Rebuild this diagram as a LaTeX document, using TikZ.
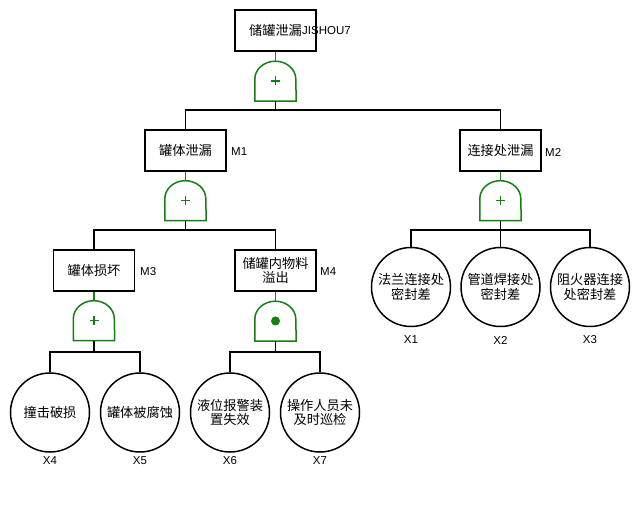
\documentclass[tikz,border=0pt]{standalone}
\usepackage{fontspec}
\setmainfont{Liberation Sans}
\newfontfamily\cjk{Noto Sans CJK SC}
\definecolor{gategreen}{RGB}{20,128,20}
\begin{document}
\begin{tikzpicture}[x=1pt,y=-1pt,
  evbox/.style={draw=black,line width=1.5pt,minimum width=81pt,minimum height=41pt,inner sep=0pt,align=center,font=\cjk\fontsize{13.2}{14.5}\selectfont},
  basic/.style={circle,draw=black,line width=1.5pt,minimum size=79pt,inner sep=0pt,align=center,font=\cjk\fontsize{13.2}{14.5}\selectfont},
  gatenode/.style={minimum width=41pt,minimum height=40pt,inner sep=0pt,draw=none},
  gateline/.style={draw=gategreen,line width=1.5pt},
  conn/.style={draw=black,line width=1.5pt},
  tag/.style={font=\fontsize{11.5}{13}\selectfont,inner sep=0pt}]
\useasboundingbox (0,0) rectangle (640,510);
\fill[white] (0,0) rectangle (640,510);

% events
\node[evbox] (T) at (275.5,30.5) {储罐泄漏};
\node[evbox] (M1) at (185.5,150.5) {罐体泄漏};
\node[evbox] (M2) at (500.5,150.5) {连接处泄漏};
\node[evbox] (M3) at (94,270.5) {罐体损坏};
\node[evbox] (M4) at (275.5,270.5) {储罐内物料\\溢出};

% basic events
\node[basic] (X4) at (50,412.5) {撞击破损};
\node[basic] (X5) at (140,412.5) {罐体被腐蚀};
\node[basic] (X6) at (230,412.5) {液位报警装\\置失效};
\node[basic] (X7) at (320,412.5) {操作人员未\\及时巡检};
\node[basic] (X1) at (411,287) {法兰连接处\\密封差};
\node[basic] (X2) at (500.5,287) {管道焊接处\\密封差};
\node[basic] (X3) at (590,287) {阻火器连接\\处密封差};

% tags
\node[tag,anchor=west] (tT) at (302,31) {JISHOU7};
\node[tag,anchor=west] (t1) at (231,151.5) {M1};
\node[tag,anchor=west] (t2) at (545,152) {M2};
\node[tag,anchor=west] (t3) at (140,272) {M3};
\node[tag,anchor=west] (t4) at (320,272) {M4};
\node[tag] (l1) at (411,340) {X1};
\node[tag] (l2) at (500.5,340) {X2};
\node[tag] (l3) at (590,340) {X3};
\node[tag] (l4) at (50,461) {X4};
\node[tag] (l5) at (140,461) {X5};
\node[tag] (l6) at (230,461) {X6};
\node[tag] (l7) at (320,461) {X7};

% gates
\node[gatenode] (G0) at (275.5,81) {};
\node[gatenode] (G1) at (185.5,200.5) {};
\node[gatenode] (G2) at (500.5,200.5) {};
\node[gatenode] (G3) at (94,320.5) {};
\node[gatenode] (G4) at (275.5,321) {};

\foreach \g in {G0,G1,G2,G3,G4}{
  \draw[gateline] (\g.south west) -- ++(0,-22) arc[start angle=180,end angle=0,x radius=20.5pt,y radius=18pt] -- (\g.south east) -- cycle;
}
\foreach \g in {G0,G1,G2,G3}{
  \draw[draw=gategreen,line width=1.8pt] ([xshift=-4.5pt]\g.center) -- ([xshift=4.5pt]\g.center);
  \draw[draw=gategreen,line width=1.8pt] ([yshift=-4.5pt]\g.center) -- ([yshift=4.5pt]\g.center);
}
\fill[gategreen] (G4.center) circle[radius=4.5pt];

% event to gate (green)
\draw[gateline] (T.south) -- (G0.north);
\draw[gateline] (M1.south) -- (G1.north);
\draw[gateline] (M2.south) -- (G2.north);
\draw[gateline] (M3.south) -- (G3.north);
\draw[gateline] (M4.south) -- (G4.north);

% gate to children
\coordinate (b0) at (275.5,110);
\draw[conn] (G0.south) -- (b0);
\draw[conn] (M1.north) |- (b0) -| (M2.north);

\coordinate (b1) at (185.5,230);
\draw[conn] (G1.south) -- (b1);
\draw[conn] (M3.north) |- (b1) -| (M4.north);

\coordinate (b2) at (500.5,230);
\draw[conn] (G2.south) -- (X2.north);
\draw[conn] (X1.north) |- (b2) -| (X3.north);

\coordinate (b3) at (94,352);
\draw[conn] (G3.south) -- (b3);
\draw[conn] (X4.north) |- (b3) -| (X5.north);

\coordinate (b4) at (275.5,352);
\draw[conn] (G4.south) -- (b4);
\draw[conn] (X6.north) |- (b4) -| (X7.north);
\end{tikzpicture}
\end{document}
